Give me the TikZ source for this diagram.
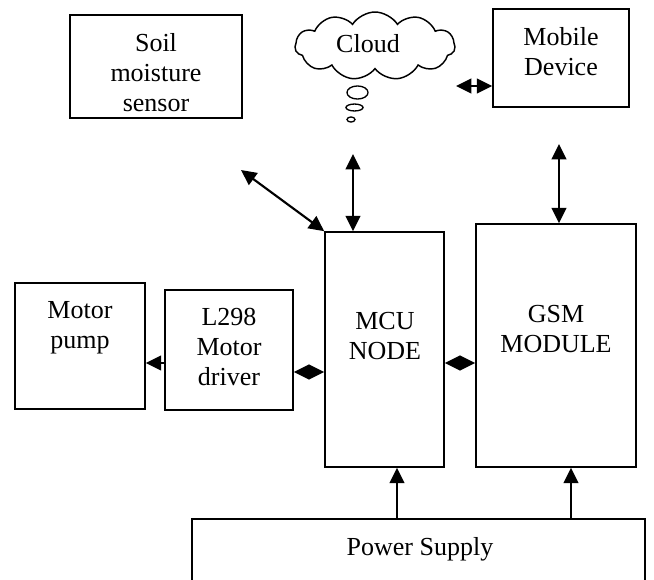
\documentclass[tikz,border=0pt]{standalone}
\usepackage{fontspec}
\setmainfont{Liberation Serif}
\usetikzlibrary{arrows.meta,shapes.symbols}
\begin{document}
\begin{tikzpicture}[x=0.75pt,y=-0.75pt,
  box/.style={draw, line width=1.2pt, rectangle, inner sep=0pt},
  txt/.style={anchor=base, inner sep=0pt, align=center, font=\fontsize{19.5pt}{22.5pt}\selectfont},
  arr/.style={-{Triangle[length=11.5pt,width=11pt]}, line width=1.6pt},
  dbl/.style={{Triangle[length=11.5pt,width=11pt]}-{Triangle[length=11.5pt,width=11pt]}, line width=1.6pt}]
\useasboundingbox (0,0) rectangle (654,579);
% boxes
\node[box, minimum width=129pt, minimum height=77.25pt] (soil) at (156,66.5) {};
\node[box, minimum width=102pt, minimum height=73.5pt] (mobile) at (561,58) {};
\node[box, minimum width=97.5pt, minimum height=94.5pt] (pump) at (80,346) {};
\node[box, minimum width=96pt, minimum height=90pt] (l298) at (229,350) {};
\node[box, minimum width=89.25pt, minimum height=176.25pt] (mcu) at (384.5,349.5) {};
\node[box, minimum width=120pt, minimum height=182.25pt] (gsm) at (556,345.5) {};
\node[box, minimum width=339.75pt, minimum height=47.25pt] (power) at (418.5,550.5) {};
\node[cloud, draw, line width=1.1pt, cloud puffs=11, cloud puff arc=115, aspect=2.35,
      minimum width=120pt, minimum height=51pt, inner sep=0pt] (cloud) at (375,46) {};
% thought bubbles
\draw[line width=1pt] (357.5,92.5) ellipse [x radius=7.9pt, y radius=4.9pt];
\draw[line width=1pt] (354.5,107.5) ellipse [x radius=6.4pt, y radius=2.6pt];
\draw[line width=1pt] (351,119.5) ellipse [x radius=3pt, y radius=1.9pt];
% texts (anchor at the baseline of the last line)
\node[txt] (soilT) at (156,111) {Soil\\moisture\\sensor};
\node[txt] (mobileT) at (561,75) {Mobile\\Device};
\node[txt] (pumpT) at (80,348) {Motor\\pump};
\node[txt] (l298T) at (229,385) {L298\\Motor\\driver};
\node[txt] (mcuT) at (385,359) {MCU\\NODE};
\node[txt] (gsmT) at (556,352) {GSM\\MODULE};
\node[txt] (cloudT) at (368,52) {Cloud};
\node[txt] (powerT) at (420,555) {Power Supply};
% free ends
\coordinate (mcuUp) at (353,154);
\coordinate (diagEnd) at (241,170);
\coordinate (gsmUp) at (559,144);
\coordinate (mobL) at (456,86);
% connectors
\draw[arr] ([yshift=-9.75pt]l298.west) -- ([yshift=-12.75pt]pump.east);
\draw[dbl] ([yshift=-16.5pt]l298.east) -- ([yshift=-16.875pt]mcu.west);
\draw[dbl] ([yshift=-10.125pt]mcu.east) -- ([yshift=-13.125pt]gsm.west);
\draw[dbl] (mcuUp) -- ([xshift=-23.625pt]mcu.north);
\draw[dbl] (diagEnd) -- (mcu.north west);
\draw[dbl] (gsmUp) -- ([xshift=2.25pt]gsm.north);
\draw[dbl] (mobL) -- ([yshift=-21pt]mobile.west);
\draw[arr] ([xshift=-16.125pt]power.north) -- ([xshift=9.375pt]mcu.south);
\draw[arr] ([xshift=114.375pt]power.north) -- ([xshift=11.25pt]gsm.south);
\end{tikzpicture}
\end{document}
